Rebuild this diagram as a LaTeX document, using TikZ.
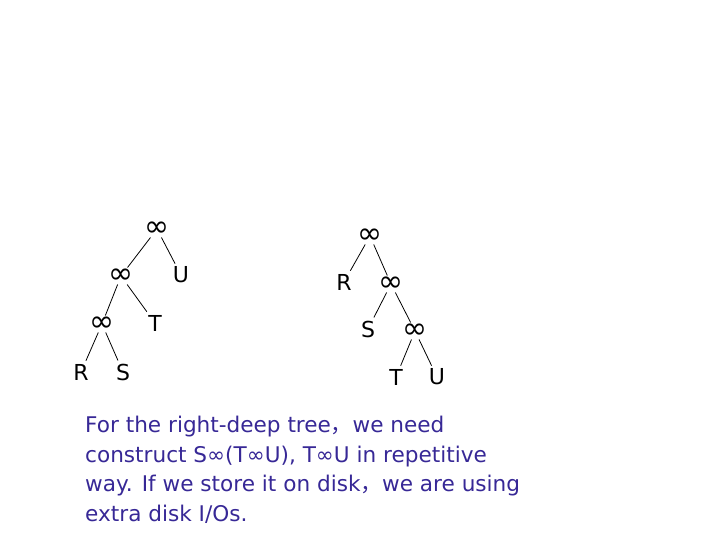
\documentclass[tikz,border=0pt]{standalone}
\usepackage{fontspec}
\setmainfont{DejaVu Sans}
\newfontfamily\cjk{Noto Sans CJK SC}
\usetikzlibrary{positioning}
\definecolor{notecol}{RGB}{55,40,150}

\begin{document}
\begin{tikzpicture}[
    x=1pt, y=-1pt,
    joinop/.style={font=\fontsize{30}{30}\selectfont, inner sep=1pt},
    leaf/.style={font=\fontsize{22}{22}\selectfont, inner sep=3pt},
    line/.style={draw, line width=0.8pt},
    note/.style={align=left, anchor=north west, inner sep=0pt, text=notecol, font=\fontsize{21.6}{29.5}\selectfont}
]
\useasboundingbox (0,0) rectangle (720,540);

% Left-deep tree
\node[joinop] (lj1) at (157,229) {∞};
\node[joinop] (lj2) at (121,276) {∞};
\node[leaf] (lu) at (181,275) {U};
\node[joinop] (lj3) at (102,324) {∞};
\node[leaf] (lt) at (155,323) {T};
\node[leaf] (lr) at (81,372) {R};
\node[leaf] (ls) at (123,372) {S};
\draw[line] (lj1) -- (lj2);
\draw[line] (lj1) -- (lu);
\draw[line] (lj2) -- (lj3);
\draw[line] (lj2) -- (lt);
\draw[line] (lj3) -- (lr);
\draw[line] (lj3) -- (ls);

% Right-deep tree
\node[joinop] (rj1) at (370,236) {∞};
\node[leaf] (rr) at (344,282) {R};
\node[joinop] (rj2) at (391,284) {∞};
\node[leaf] (rs) at (368,329) {S};
\node[joinop] (rj3) at (415,331) {∞};
\node[leaf] (rt) at (396,377) {T};
\node[leaf] (ru) at (437,377) {U};
\draw[line] (rj1) -- (rr);
\draw[line] (rj1) -- (rj2);
\draw[line] (rj2) -- (rs);
\draw[line] (rj2) -- (rj3);
\draw[line] (rj3) -- (rt);
\draw[line] (rj3) -- (ru);

% Note
\node[note] (txt) at (85,416) {For the right-deep tree{\cjk ，}we need\\
construct S∞(T∞U), T∞U in repetitive\\
way. If we store it on disk{\cjk ，}we are using\\
extra disk I/Os.};

\end{tikzpicture}
\end{document}
